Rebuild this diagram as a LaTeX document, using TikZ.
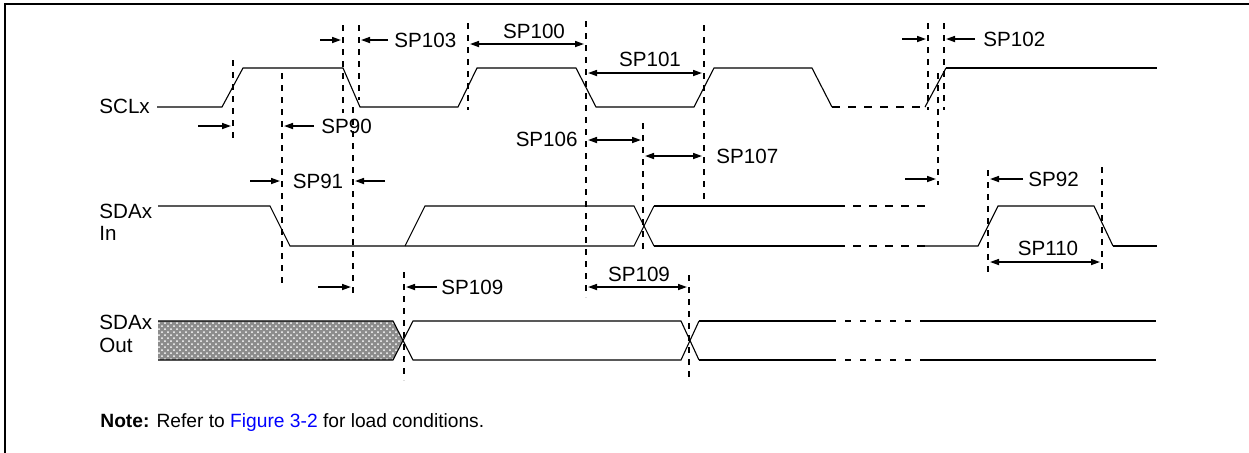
\documentclass[tikz,border=0pt]{standalone}
\usepackage{fontspec}
\setmainfont{Liberation Sans}
\usetikzlibrary{arrows.meta,patterns}
\begin{document}
\begin{tikzpicture}[x=0.5pt,y=-0.5pt,
 sig/.style={line width=0.55pt},
 sigb/.style={line width=1pt},
 guide/.style={line width=0.9pt, dash pattern=on 3pt off 3pt},
 hdash/.style={line width=1pt, dash pattern=on 4pt off 4pt},
 hdashb/.style={line width=1pt, dash pattern=on 3pt off 4.5pt},
 tip/.tip={Triangle[length=4.5pt,width=3pt]},
 dimr/.style={line width=0.8pt,-tip},
 dimb/.style={line width=0.8pt,tip-tip},
 lbl/.style={font=\fontsize{10.3}{12}\selectfont, inner sep=0pt},
 note/.style={font=\fontsize{9.6}{12}\selectfont, inner sep=0pt},
]
\useasboundingbox (0,0) rectangle (1249,452);
\clip (0,0) rectangle (1249,452);
\draw[line width=0.8pt] (5,4) rectangle (1262,470);

% signal names
\node[lbl,anchor=west] (scl) at (99,106) {SCLx};
\node[lbl,anchor=west] (sdain1) at (99,211) {SDAx};
\node[lbl,anchor=west] (sdain2) at (99,233) {In};
\node[lbl,anchor=west] (sdaout1) at (99,322) {SDAx};
\node[lbl,anchor=west] (sdaout2) at (99,345) {Out};

% SCL waveform
\draw[sig] (157,107)--(222,107)--(243,68)--(343,68)--(360,107)--(458,107)--(477,68)--(576,68)--(596,107)--(694,107)--(714,68)--(812,68)--(832,107);
\draw[hdash] (832,107)--(925,107);
\draw[sig] (925,107)--(946,68);
\draw[sigb] (946,68)--(1157,68);

% SDA In waveform
\draw[sig] (158,206)--(270,206)--(290,246)--(634,246)--(654,206);
\draw[sig] (405,246)--(425,206)--(634,206)--(654,246);
\draw[sigb] (654,206)--(837,206);
\draw[sigb] (654,246)--(837,246);
\draw[hdash] (837,206)--(925,206);
\draw[hdash] (837,246)--(925,246);
\draw[sig] (925,246)--(978,246)--(998,206)--(1094,206)--(1113,246);
\draw[sigb] (1113,246)--(1157,246);

% SDA Out waveform
\fill[black!45] (158,321)--(393,321)--(403,340.5)--(393,360)--(158,360)--cycle;
\fill[pattern=crosshatch dots,pattern color=white] (158,321)--(393,321)--(403,340.5)--(393,360)--(158,360)--cycle;
\draw[sig] (158,321)--(393,321)--(413,360)--(681,360)--(699,321);
\draw[sig] (158,360)--(393,360)--(413,321)--(681,321)--(699,360);
\draw[sigb] (699,321)--(836,321);
\draw[sigb] (699,360)--(836,360);
\draw[hdashb] (845,321)--(914,321);
\draw[hdashb] (845,360)--(914,360);
\draw[sigb] (920,321)--(1156,321);
\draw[sigb] (920,360)--(1156,360);

% guide lines
\draw[guide] (233,60)--(233,140);
\draw[guide] (282,73)--(282,288);
\draw[guide] (343,25)--(343,113);
\draw[guide] (359,25)--(359,100);
\draw[guide] (353,107)--(353,298);
\draw[guide] (468,23)--(468,110);
\draw[guide] (586,21)--(586,297);
\draw[guide] (704,25)--(704,203);
\draw[guide] (643,123)--(643,250);
\draw[guide] (928,23)--(928,110);
\draw[guide] (944,23)--(944,110);
\draw[guide] (938,73)--(938,185);
\draw[guide] (988,170)--(988,272);
\draw[guide] (1102,167)--(1102,272);
\draw[guide] (404,272)--(404,380);
\draw[guide] (689,275)--(689,382);

% SP90
\draw[dimr] (198,126)--(231,126);
\draw[dimr] (314,126)--(284,126);
\node[lbl,anchor=west] (sp90) at (321,126) {SP90};
% SP103
\draw[dimr] (320,40)--(341,40);
\draw[dimr] (388,40)--(361,40);
\node[lbl,anchor=west] (sp103) at (394,40) {SP103};
% SP100
\draw[dimb] (470,44)--(584,44);
\node[lbl] (sp100) at (534,31) {SP100};
% SP101
\draw[dimb] (588,73)--(702,73);
\node[lbl] (sp101) at (650,59) {SP101};
% SP106
\draw[dimb] (588,140)--(641,140);
\node[lbl,anchor=east] (sp106) at (578,139) {SP106};
% SP107
\draw[dimb] (645,156)--(702,156);
\node[lbl,anchor=west] (sp107) at (716,156) {SP107};
% SP102
\draw[dimr] (902,39)--(926,39);
\draw[dimr] (975,39)--(946,39);
\node[lbl,anchor=west] (sp102) at (983,39) {SP102};
% SP91
\draw[dimr] (250,181)--(280,181);
\draw[dimr] (385,181)--(355,181);
\node[lbl] (sp91) at (318,181) {SP91};
% SP107 at SCL end
\draw[dimr] (905,179)--(936,179);
% SP92
\draw[dimr] (1023,179)--(990,179);
\node[lbl,anchor=west] (sp92) at (1028,179) {SP92};
% SP110
\draw[dimb] (990,262)--(1100,262);
\node[lbl] (sp110) at (1048,248) {SP110};
% SP109 (left)
\draw[dimr] (318,287)--(351,287);
\draw[dimr] (437,287)--(406,287);
\node[lbl,anchor=west] (sp109a) at (441,287) {SP109};
% SP109 (right)
\draw[dimb] (588,287)--(687,287);
\node[lbl] (sp109b) at (639,274) {SP109};

% note
\node[note,anchor=west] (note) at (100,423) {\textbf{Note:} Refer to \textcolor{blue}{Figure 3-2} for load conditions.};
\end{tikzpicture}
\end{document}
